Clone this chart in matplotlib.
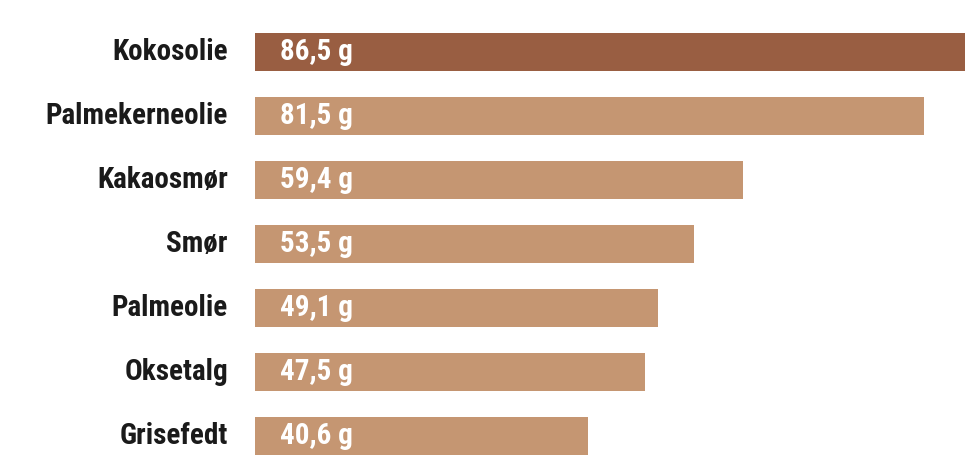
import matplotlib
matplotlib.use("Agg")
import matplotlib.pyplot as plt

foods = ["Kokosolie", "Palmekerneolie", "Kakaosmør", "Smør", "Palmeolie", "Oksetalg", "Grisefedt"]
grams = [86.5, 81.5, 59.4, 53.5, 49.1, 47.5, 40.6]
value_labels = ["86,5 g", "81,5 g", "59,4 g", "53,5 g", "49,1 g", "47,5 g", "40,6 g"]

dark = "#995e42"
light = "#c59672"
colors = [dark] + [light] * (len(foods) - 1)

plt.rcParams['font.family'] = ['Roboto Condensed', 'DejaVu Sans']

fig = plt.figure(figsize=(9.65, 4.70), dpi=100)
ax = fig.add_axes([255 / 965, 0, 1 - 255 / 965, 1])

ypos = list(range(len(foods)))
ax.barh(ypos, grams, height=0.6, color=colors)

ax.set_xlim(0, 86.5)
ax.set_ylim(6 + 34 / 64, -52 / 64)
ax.axis("off")

for y, name, lab in zip(ypos, foods, value_labels):
    ax.text(-3.3, y, name, ha="right", va="center", fontsize=21,
            fontweight="bold", color="#1a1a1a")
    ax.text(3.0, y, lab, ha="left", va="center", fontsize=21,
            fontweight="bold", color="white")

fig.savefig("out.png", dpi=100)
